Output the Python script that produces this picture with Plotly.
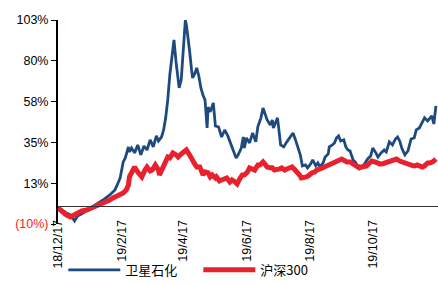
import pandas as pd
import plotly.graph_objects as go

start_date = "2018-12-17"

# 卫星石化: day offset from start, cumulative return (%)
sat_days = [0, 4, 8, 12, 16, 19, 23, 27, 31, 36, 41, 45, 50, 55, 58, 60, 63, 65, 68, 69,
            71, 74, 77, 80, 83, 86, 89, 92, 95, 97, 100, 102, 104, 106, 108, 110, 112, 114, 116, 117,
            119, 121, 123, 124, 126, 127, 129, 130, 132, 134, 136, 138, 140, 142, 144, 145, 147, 150, 152, 155,
            158, 161, 164, 166, 169, 172, 174, 177, 179, 180, 182, 185, 188, 191, 193, 196, 198, 200, 202, 205,
            207, 208, 210, 212, 215, 218, 221, 224, 227, 230, 232, 234, 236, 239, 241, 244, 246, 249, 251, 253,
            256, 258, 261, 262, 265, 267, 269, 271, 273, 276, 278, 280, 282, 285, 287, 290, 291, 294, 296, 299,
            302, 304, 307, 309, 312, 315, 317, 320, 323, 326, 328, 330, 332, 335, 338, 341, 344, 346, 349, 351,
            354, 357, 359, 361, 363, 365]
sat_vals = [-0.6, -2.2, -3.9, -5.0, -8.3, -5.5, -4.4, -2.8, -1.7, 0.6, 2.2, 3.9, 6.1, 8.9, 12.7, 15.5, 24.4, 26.6, 32.7, 29.9,
            32.1, 29.4, 33.8, 28.3, 33.2, 31.0, 36.6, 32.7, 38.8, 36.0, 38.2, 42.1, 48.8, 58.7, 72.6, 82.0, 92.0, 79.8, 68.7, 65.4,
            69.8, 87.5, 103.0, 100.3, 92.0, 86.4, 75.3, 70.9, 73.1, 76.5, 72.0, 65.4, 61.5, 58.7, 43.2, 54.8, 52.1, 57.1, 44.3, 43.8,
            38.2, 42.1, 38.8, 36.0, 31.0, 26.6, 28.3, 32.1, 38.2, 32.1, 37.7, 34.9, 40.4, 35.5, 43.8, 48.8, 54.3, 50.4, 47.6, 44.9,
            47.6, 43.2, 46.5, 48.8, 33.8, 32.7, 35.5, 37.7, 40.4, 35.5, 32.1, 28.3, 22.2, 22.7, 21.1, 23.3, 25.5, 22.2, 23.8, 21.6,
            23.8, 27.1, 28.8, 32.7, 33.8, 34.9, 37.7, 38.8, 36.0, 36.6, 32.7, 31.0, 30.5, 25.5, 24.4, 21.6, 22.2, 21.6, 23.3, 26.0,
            27.7, 32.1, 29.4, 27.1, 29.4, 31.0, 29.9, 35.5, 33.8, 37.1, 38.2, 36.0, 32.1, 28.3, 30.5, 37.1, 37.7, 42.1, 43.2, 45.4,
            48.8, 47.1, 48.8, 49.9, 45.4, 55.4]

# 沪深300: day offset from start, cumulative return (%)
hs_days = [0, 4, 8, 12, 15, 19, 23, 28, 33, 37, 41, 45, 50, 53, 58, 63, 66, 68, 69, 71,
           74, 77, 81, 84, 86, 89, 91, 94, 97, 98, 101, 103, 106, 108, 111, 114, 116, 119, 121, 123,
           124, 127, 130, 132, 134, 137, 140, 142, 145, 147, 149, 152, 153, 156, 158, 161, 163, 166, 168, 171,
           173, 176, 178, 180, 183, 185, 188, 190, 193, 195, 198, 200, 202, 205, 207, 209, 211, 214, 216, 219,
           221, 224, 226, 229, 231, 234, 235, 238, 240, 243, 245, 248, 250, 253, 255, 258, 260, 262, 264, 267,
           269, 272, 274, 277, 279, 282, 284, 287, 289, 291, 293, 296, 298, 301, 303, 306, 308, 311, 313, 316,
           318, 320, 322, 325, 327, 330, 332, 335, 337, 340, 343, 345, 347, 349, 352, 354, 357, 359, 362, 365]
hs_vals = [-1.1, -3.3, -5.0, -6.1, -5.0, -3.9, -2.8, -2.2, -1.1, 0.0, 0.6, 1.7, 3.3, 4.4, 5.5, 7.2, 8.9, 11.6, 16.1, 18.8,
           21.6, 18.8, 16.1, 19.9, 21.6, 19.4, 19.9, 22.7, 19.9, 17.2, 21.6, 23.8, 27.1, 26.6, 29.4, 28.3, 27.1, 28.8, 29.9, 31.0,
           31.0, 28.3, 24.4, 23.3, 21.6, 21.6, 17.2, 18.8, 18.3, 16.1, 17.2, 15.5, 16.1, 13.9, 14.4, 15.5, 15.5, 13.3, 14.4, 13.3,
           12.2, 15.5, 17.2, 17.2, 18.8, 21.1, 19.9, 19.9, 22.7, 22.7, 24.4, 22.7, 21.6, 21.1, 21.1, 19.9, 19.9, 20.5, 21.1, 19.9,
           20.5, 21.6, 21.6, 19.9, 18.8, 16.6, 15.5, 15.5, 16.1, 17.2, 18.3, 18.8, 19.9, 20.5, 21.1, 21.6, 22.2, 22.7, 23.8, 24.4,
           24.9, 25.5, 26.0, 24.9, 24.4, 24.4, 23.8, 22.7, 21.6, 21.1, 21.6, 21.6, 22.2, 23.8, 24.9, 24.4, 23.8, 23.3, 23.3, 23.8,
           24.4, 24.9, 25.5, 26.0, 26.0, 24.9, 24.4, 23.8, 23.8, 22.7, 22.2, 22.2, 22.7, 22.2, 21.6, 22.2, 23.8, 23.8, 24.4, 26.0]

x_tick_dates = ["2018-12-17", "2019-02-17", "2019-04-17", "2019-06-17", "2019-08-17", "2019-10-17"]
x_tick_text = ["18/12/17", "19/2/17", "19/4/17", "19/6/17", "19/8/17", "19/10/17"]
y_tick_vals = [-10, 12.6, 35.2, 57.8, 80.4, 103]
y_tick_text = ['<span style="color:#ff2020">(10%)</span>', "13%", "35%", "58%", "80%", "103%"]

t0 = pd.Timestamp(start_date)
sat_x = t0 + pd.to_timedelta(sat_days, unit="D")
hs_x = t0 + pd.to_timedelta(hs_days, unit="D")

fig = go.Figure()
fig.add_trace(go.Scatter(x=sat_x, y=sat_vals, mode="lines", name="卫星石化",
                         line=dict(color="#1f4a7e", width=2.8)))
fig.add_trace(go.Scatter(x=hs_x, y=hs_vals, mode="lines", name="沪深300",
                         line=dict(color="#e8212f", width=5)))

zero_pos = 10 / 113.0

fig.update_layout(
    width=438, height=285,
    margin=dict(l=58, r=0, t=20, b=61),
    paper_bgcolor="white", plot_bgcolor="white",
    font=dict(family="Liberation Sans, Arial, sans-serif", size=12.5, color="#000000"),
    showlegend=True,
    legend=dict(orientation="h", x=0.014, xanchor="left", y=-0.225, yanchor="middle",
                font=dict(family="Noto Sans CJK SC, sans-serif", size=13, color="#000000"),
                bgcolor="rgba(0,0,0,0)", entrywidth=68, entrywidthmode="pixels",
                itemwidth=52),
    xaxis=dict(
        type="date",
        range=[t0, t0 + pd.Timedelta(days=367)],
        anchor="free", position=zero_pos,
        showline=True, linecolor="#333333", linewidth=1,
        showgrid=False, zeroline=False,
        tickmode="array", tickvals=x_tick_dates, ticktext=x_tick_text,
        tickangle=-90, ticks="outside", ticklen=8, tickcolor="rgba(0,0,0,0)",
        tickfont=dict(size=12.5, color="#000000"),
        automargin=False,
    ),
    yaxis=dict(
        range=[-10, 103],
        showline=True, linecolor="#000000", linewidth=2,
        showgrid=False, zeroline=False,
        tickmode="array", tickvals=y_tick_vals, ticktext=y_tick_text,
        ticks="outside", ticklen=5, tickcolor="#000000", tickwidth=1,
        tickfont=dict(size=12.5, color="#000000"),
        automargin=False,
    ),
)

fig.write_html("out.html", config={"displayModeBar": False},
               post_script="document.body.style.margin='0';")
